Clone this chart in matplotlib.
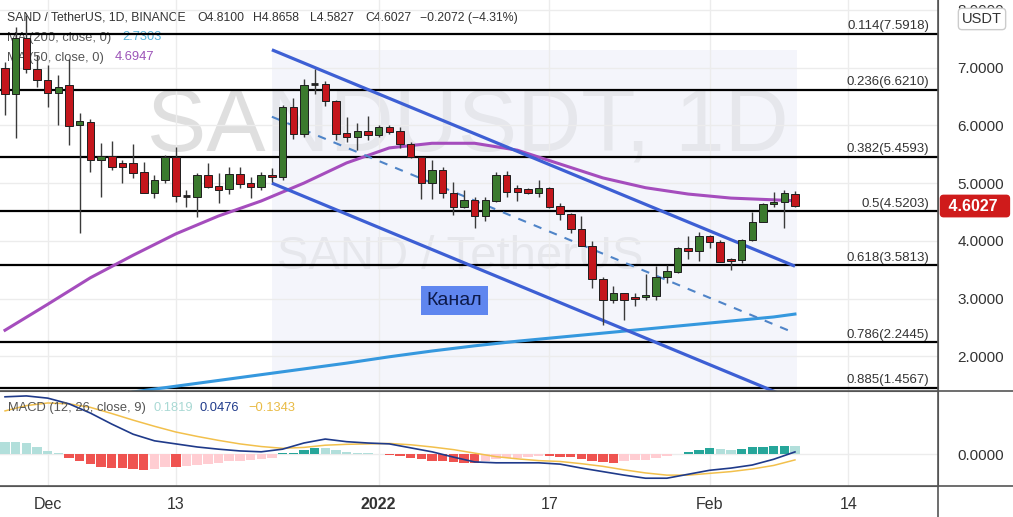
import matplotlib
matplotlib.use("Agg")
import matplotlib.pyplot as plt
import matplotlib.transforms as mtransforms
from matplotlib.lines import Line2D

plt.rcParams['font.family'] = ['Liberation Sans', 'DejaVu Sans']

# x positions are day indices: 0 = 27 Nov 2021 ... 74 = 9 Feb 2022
tick_pos = [4, 16, 35, 51, 66, 79]
tick_lbl = ['Dec', '13', '2022', '17', 'Feb', '14']

opens = [7.00, 6.54, 7.51, 6.98, 6.79, 6.56, 6.70, 6.01, 6.06, 5.40,
         5.47, 5.35, 5.35, 5.19, 4.83, 5.05, 5.45, 4.78, 4.76, 5.14,
         4.95, 4.90, 5.16, 5.00, 4.93, 5.14, 5.10, 6.32, 5.85, 6.72,
         6.72, 6.42, 5.86, 5.80, 5.90, 5.83, 5.97, 5.90, 5.68, 5.45,
         5.00, 5.23, 4.83, 4.59, 4.71, 4.43, 4.69, 5.14, 4.92, 4.90,
         4.83, 4.92, 4.60, 4.46, 4.20, 3.91, 3.34, 2.97, 3.10, 3.03,
         3.03, 3.04, 3.37, 3.46, 3.88, 3.82, 4.08, 3.98, 3.68, 3.67,
         4.01, 4.33, 4.64, 4.67, 4.81]
highs = [7.10, 7.70, 7.91, 7.22, 7.05, 6.87, 7.15, 6.21, 6.11, 5.69,
         5.73, 5.40, 5.68, 5.37, 5.14, 5.49, 5.63, 4.88, 5.18, 5.35,
         5.18, 5.28, 5.28, 5.11, 5.19, 5.26, 6.35, 6.47, 6.80, 6.97,
         6.77, 6.44, 6.15, 6.04, 6.16, 6.00, 6.01, 5.97, 5.71, 5.45,
         5.40, 5.28, 5.02, 4.88, 4.76, 4.76, 5.19, 5.21, 4.97, 4.92,
         5.05, 4.93, 4.66, 4.48, 4.43, 4.00, 3.37, 3.22, 3.10, 3.10,
         3.42, 3.56, 3.58, 3.89, 4.08, 4.15, 4.10, 4.01, 3.70, 4.03,
         4.50, 4.66, 4.85, 4.88, 4.8658]
lows = [6.18, 5.78, 6.90, 6.67, 6.32, 6.01, 5.66, 4.14, 5.19, 4.76,
        5.23, 5.00, 5.09, 4.82, 4.74, 5.00, 4.67, 4.59, 4.41, 4.91,
        4.66, 4.81, 4.91, 4.74, 4.88, 5.02, 5.05, 5.76, 5.80, 6.54,
        6.34, 5.75, 5.71, 5.57, 5.75, 5.80, 5.85, 5.61, 5.44, 4.72,
        4.72, 4.74, 4.45, 4.57, 4.22, 4.34, 4.67, 4.76, 4.69, 4.81,
        4.76, 4.57, 4.36, 4.14, 3.91, 3.18, 2.54, 2.92, 2.63, 2.87,
        2.97, 2.97, 3.27, 3.44, 3.68, 3.65, 3.88, 3.63, 3.49, 3.62,
        3.99, 4.33, 4.59, 4.22, 4.5827]
closes = [6.54, 7.51, 6.98, 6.79, 6.56, 6.67, 5.99, 6.08, 5.40, 5.47,
          5.28, 5.28, 5.18, 4.83, 5.05, 5.45, 4.78, 4.77, 5.14, 4.93,
          4.88, 5.16, 4.98, 4.93, 5.14, 5.10, 6.32, 5.85, 6.70, 6.71,
          6.42, 5.85, 5.80, 5.90, 5.83, 5.97, 5.89, 5.68, 5.45, 5.00,
          5.23, 4.83, 4.59, 4.71, 4.43, 4.71, 5.14, 4.85, 4.85, 4.83,
          4.92, 4.59, 4.46, 4.20, 3.91, 3.34, 2.97, 3.10, 2.97, 2.99,
          3.06, 3.37, 3.48, 3.88, 3.82, 4.08, 3.98, 3.63, 3.65, 4.01,
          4.33, 4.64, 4.67, 4.83, 4.6027]

ma50_x = [0, 4, 8, 12, 16, 20, 24, 28, 32, 36, 40, 44, 48, 52, 56, 60, 64, 68, 72, 74]
ma50_y = [2.45, 2.90, 3.36, 3.75, 4.12, 4.43, 4.69, 5.00, 5.35, 5.61,
          5.69, 5.69, 5.57, 5.33, 5.09, 4.92, 4.81, 4.74, 4.71, 4.6947]
ma200_x = [12, 16, 20, 24, 28, 32, 36, 40, 44, 48, 52, 56, 60, 64, 68, 72, 74]
ma200_y = [1.38, 1.48, 1.58, 1.68, 1.78, 1.88, 1.99, 2.09, 2.18, 2.26,
           2.33, 2.40, 2.47, 2.54, 2.61, 2.68, 2.7303]

fib_ratio = ['0.114', '0.236', '0.382', '0.5', '0.618', '0.786', '0.885']
fib_price = [7.5918, 6.6210, 5.4593, 4.5203, 3.5813, 2.2445, 1.4567]

chan_x = [25, 74]
chan_upper = [7.31, 3.56]
chan_lower = [5.00, 1.24]
chan_mid = [6.15, 2.40]

hist = [0.28, 0.27, 0.24, 0.17, 0.07, 0.015, -0.08, -0.15, -0.23, -0.29,
        -0.31, -0.32, -0.34, -0.36, -0.33, -0.29, -0.30, -0.27, -0.25, -0.23,
        -0.21, -0.17, -0.15, -0.14, -0.12, -0.08, 0.02, 0.03, 0.09, 0.14,
        0.13, 0.08, 0.05, 0.03, 0.015, 0.005, -0.02, -0.05, -0.08, -0.12,
        -0.15, -0.17, -0.19, -0.20, -0.21, -0.17, -0.12, -0.10, -0.08, -0.06,
        -0.04, -0.05, -0.07, -0.075, -0.11, -0.15, -0.18, -0.20, -0.17, -0.14,
        -0.13, -0.09, -0.05, 0.01, 0.05, 0.10, 0.13, 0.11, 0.10, 0.11,
        0.15, 0.16, 0.185, 0.19, 0.1819]
macd_x = list(range(0, 75, 2))
macd_y = [1.30, 1.32, 1.27, 1.14, 0.93, 0.68, 0.45, 0.30, 0.23, 0.16,
          0.11, 0.07, 0.05, 0.11, 0.25, 0.34, 0.28, 0.25, 0.23, 0.14,
          0.05, -0.07, -0.18, -0.20, -0.20, -0.20, -0.23, -0.32, -0.40, -0.48,
          -0.55, -0.55, -0.46, -0.37, -0.32, -0.25, -0.12, 0.0476]
sig_y = [0.98, 1.10, 1.16, 1.14, 1.06, 0.92, 0.77, 0.63, 0.50, 0.40,
         0.31, 0.23, 0.17, 0.13, 0.15, 0.20, 0.22, 0.23, 0.24, 0.21,
         0.16, 0.10, 0.02, -0.06, -0.11, -0.15, -0.17, -0.22, -0.28, -0.36,
         -0.43, -0.48, -0.48, -0.44, -0.40, -0.34, -0.26, -0.1343]

header = ['SAND / TetherUS, 1D, BINANCE', 'O4.8100', 'H4.8658', 'L4.5827', 'C4.6027',
          '\u22120.2072 (\u22124.31%)']

W, H = 1013, 517
fig = plt.figure(figsize=(W / 100, H / 100), dpi=100)
ax = fig.add_axes([0, 1 - 391 / H, 938 / W, 391 / H])
ax2 = fig.add_axes([0, 1 - 486 / H, 938 / W, 95 / H], sharex=ax)

txt = '#333333'
ax.set_xlim(-0.47, 87.4)
ax.set_ylim(1.397, 8.173)

# grid
ax.set_xticks(tick_pos)
ax.set_yticks([2, 3, 4, 5, 6, 7, 8])
ax.set_yticklabels(['%.4f' % v for v in [2, 3, 4, 5, 6, 7, 8]])
ax.grid(color='#ececec', lw=1, zorder=0)
ax.yaxis.tick_right()
ax.tick_params(axis='y', length=0, pad=14, labelsize=11, labelcolor=txt)
ax.tick_params(axis='x', length=0, labelbottom=False)
for s in ['top', 'left']:
    ax.spines[s].set_visible(False)
ax.spines['right'].set_color('#555555')
ax.spines['bottom'].set_color('#555555')

# watermark
ax.text(0.499, 0.675, 'SANDUSDT, 1D', transform=ax.transAxes, ha='center', va='center',
        fontsize=64, color='#dfdfdf', zorder=0.5)
ax.text(0.491, 0.343, 'SAND / TetherUS', transform=ax.transAxes, ha='center', va='center',
        fontsize=34, color='#dfdfdf', zorder=0.5)

# channel
ax.fill_between([chan_x[0], chan_x[1] + 0.2], 1.3, chan_upper[0], color='#eceef8', alpha=0.55, lw=0, zorder=0.8)
ax.plot(chan_x, chan_upper, color='#3d5fd4', lw=2.3, zorder=4, solid_capstyle='butt')
ax.plot(chan_x, chan_lower, color='#3d5fd4', lw=2.3, zorder=4, solid_capstyle='butt')
ax.plot(chan_x, chan_mid, color='#4f84c8', lw=1.5, ls=(0, (4, 4)), zorder=4)

# fib levels
trans = mtransforms.blended_transform_factory(ax.transAxes, ax.transData)
for r, p in zip(fib_ratio, fib_price):
    ax.axhline(p, color='black', lw=1.6, zorder=2)
    ax.text(0.9904, p + 0.02, '%s(%.4f)' % (r, p), transform=trans, ha='right', va='bottom',
            fontsize=9.5, color=txt, zorder=5)

# moving averages
ax.plot(ma200_x, ma200_y, color='#3598de', lw=2.2, zorder=3)
ax.plot(ma50_x, ma50_y, color='#a54dbd', lw=2.2, zorder=3)

# candles
for i in range(len(opens)):
    o, h, l, c = opens[i], highs[i], lows[i], closes[i]
    col = '#3b7a2e' if c >= o else '#c4161c'
    ax.vlines(i, l, h, color='#3a3a3a', lw=1, zorder=5)
    body = abs(c - o)
    if body < 0.03:
        ax.hlines((o + c) / 2, i - 0.35, i + 0.35, color='#222222', lw=2, zorder=6)
    else:
        ax.bar(i, body, bottom=min(o, c), width=0.7, color=col, edgecolor='#1e1e1e', lw=0.7, zorder=6)

# channel label
ax.text(42.1, 2.96, 'Канал', ha='center', va='center', fontsize=14, color='#0d1a4a', zorder=8,
        bbox=dict(boxstyle='square,pad=0.3', fc='#5f86ef', ec='none'))

# header and legends
fx = lambda px: px / 938
fy = lambda py: 1 - py / 391
for s, px in zip(header, [7, 197, 253, 310, 365, 420]):
    ax.text(fx(px), fy(18), s, transform=ax.transAxes, ha='left', va='center',
            fontsize=8.8, color=txt, zorder=1)
ax.text(fx(7), fy(37.5), 'MA (200, close, 0)', transform=ax.transAxes, ha='left', va='center',
        fontsize=9.3, color='#555555', zorder=1)
ax.text(fx(122), fy(37.5), '2.7303', transform=ax.transAxes, ha='left', va='center',
        fontsize=9.3, color='#55b3d9', zorder=1)
ax.text(fx(7), fy(57.5), 'MA (50, close, 0)', transform=ax.transAxes, ha='left', va='center',
        fontsize=9.3, color='#555555', zorder=1)
ax.text(fx(115), fy(57.5), '4.6947', transform=ax.transAxes, ha='left', va='center',
        fontsize=9.3, color='#9c54b8', zorder=1)

# last price tag
ax.text(1.006, closes[-1], ' %.4f  ' % closes[-1], transform=trans, ha='left', va='center',
        fontsize=11.5, fontweight='bold', color='white', clip_on=False, zorder=10,
        bbox=dict(boxstyle='round,pad=0.2,rounding_size=0.2', fc='#cf1b1b', ec='#cf1b1b'))

# MACD pane
ax2.set_ylim(-0.727, 1.432)
ax2.set_yticks([0])
ax2.set_yticklabels(['0.0000'])
ax2.yaxis.tick_right()
ax2.tick_params(axis='y', length=0, pad=14, labelsize=11, labelcolor=txt)
ax2.set_xticks(tick_pos)
ax2.set_xticklabels(tick_lbl)
ax2.tick_params(axis='x', length=0, pad=8, labelsize=11.5, labelcolor=txt)
ax2.get_xticklabels()[2].set_fontweight('bold')
ax2.grid(color='#ececec', lw=1, zorder=0)
ax2.spines['left'].set_visible(False)
for s in ['top', 'bottom', 'right']:
    ax2.spines[s].set_color('#555555')

hcols = []
for i, v in enumerate(hist):
    prev = hist[i - 1] if i > 0 else v
    if v >= 0:
        hcols.append('#26a69a' if v > prev else '#b2dfdb')
    else:
        hcols.append('#ef5350' if v < prev else '#ffcdd2')
ax2.bar(range(len(hist)), hist, width=0.88, color=hcols, zorder=2)
ax2.plot(macd_x, sig_y, color='#f2c04c', lw=1.1, zorder=3)
ax2.plot(macd_x, macd_y, color='#1f3a8a', lw=1.2, zorder=4)

ax2.text(8 / 938, 0.82, 'MACD (12, 26, close, 9)', transform=ax2.transAxes, ha='left', va='center',
         fontsize=9.3, color='#555555', zorder=5)
ax2.text(153 / 938, 0.82, '0.1819', transform=ax2.transAxes, ha='left', va='center',
         fontsize=9.3, color='#a9d9d4', zorder=5)
ax2.text(200 / 938, 0.82, '0.0476', transform=ax2.transAxes, ha='left', va='center',
         fontsize=9.3, color='#1f3a8a', zorder=5)
ax2.text(248 / 938, 0.82, '\u22120.1343', transform=ax2.transAxes, ha='left', va='center',
         fontsize=9.3, color='#e9bb45', zorder=5)

# pane separators and right scale border
for yy in [1 - 391 / H, 1 - 486 / H]:
    fig.add_artist(Line2D([0, 1], [yy, yy], color='#555555', lw=1.2))
fig.add_artist(Line2D([938 / W, 938 / W], [0, 1], color='#555555', lw=1.2))

fig.text(982 / W, 1 - 19 / H, 'USDT', ha='center', va='center', fontsize=10.5, color=txt, zorder=20,
         bbox=dict(boxstyle='round,pad=0.25', fc='white', ec='#cccccc'))

fig.savefig('out.png', dpi=100)
